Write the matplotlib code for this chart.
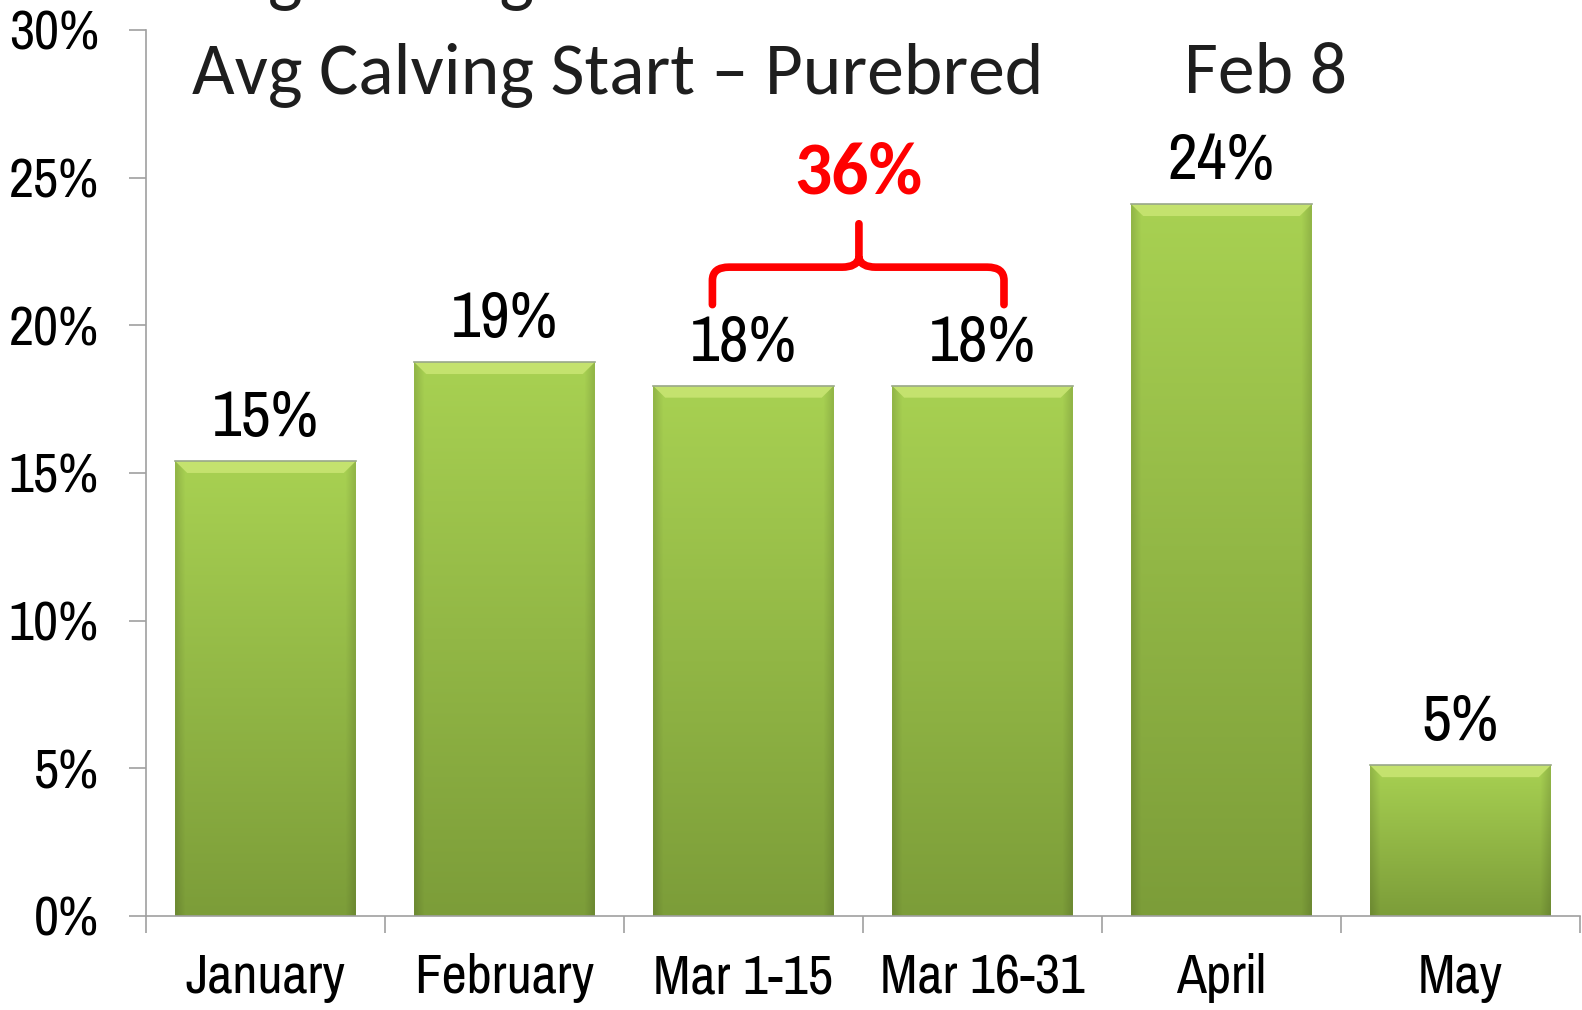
import numpy as np
import matplotlib
matplotlib.use("Agg")
import matplotlib.pyplot as plt
from matplotlib.path import Path
from matplotlib.patches import PathPatch, Polygon

categories = ["January", "February", "Mar 1-15", "Mar 16-31", "April", "May"]
values = [15.4, 18.75, 17.95, 17.95, 24.1, 5.1]
value_labels = ["15%", "19%", "18%", "18%", "24%", "5%"]
yticks = [0, 5, 10, 15, 20, 25, 30]
ytick_labels = ["0%", "5%", "10%", "15%", "20%", "25%", "30%"]
bracket_label = "36%"
title_lines = [("Avg Calving Start \u2013 Commercial", "Mar 15"),
               ("Avg Calving Start \u2013 Purebred", "Feb 8")]

TICK_FONT = ["Pragati Narrow", "DejaVu Sans"]
LABEL_FONT = ["Archivo Narrow", "DejaVu Sans"]
TITLE_FONT = ["Carlito", "DejaVu Sans"]

fig = plt.figure(figsize=(15.82, 10.10), dpi=100)
ax = fig.add_axes([0.0923, 0.0931, 0.9064, 0.8772])

x = np.arange(len(categories))
bars = ax.bar(x, values, width=0.755, color="none", edgecolor="none", zorder=2)

top_rgb = np.array([168, 209, 82]) / 255
bot_rgb = np.array([124, 157, 57]) / 255
for b in bars:
    bx, by, bw, bh = b.get_x(), b.get_y(), b.get_width(), b.get_height()
    ny, nx = 200, 60
    t = np.linspace(0, 1, ny)[:, None, None]
    img = top_rgb * (1 - t) + bot_rgb * t
    img = np.repeat(img, nx, axis=1)
    u = np.linspace(0, 1, nx)
    edge = 1 - 0.12 * np.clip(1 - np.minimum(u, 1 - u) / 0.05, 0, 1)
    img = img * edge[None, :, None]
    im = ax.imshow(img, extent=(bx, bx + bw, by, by + bh), aspect="auto",
                   zorder=2, interpolation="bilinear")
    im.set_clip_path(b)
    dx, dy = 0.05, 0.4
    ax.add_patch(Polygon([(bx, bh), (bx + bw, bh), (bx + bw - dx, bh - dy),
                          (bx + dx, bh - dy)], closed=True,
                         facecolor="#c4e26e", edgecolor="none", zorder=3))
    ax.plot([bx, bx + bw], [bh, bh], color="#9aa88a", lw=1.2, zorder=4)

for xi, v, lab in zip(x, values, value_labels):
    ax.text(xi, v + 0.85, lab, ha="center", va="baseline", fontsize=47,
            family=LABEL_FONT, color="black")

# red brace over the two March halves
bl, br, bm = 2 - 0.13, 3 + 0.09, 2.483
y0, y1, y2 = 20.7, 21.97, 23.44
rx, ry = 0.07, 0.45
verts = [(bl, y0), (bl, y1 - ry), (bl, y1), (bl + rx, y1),
         (bm - rx, y1), (bm - 0.01, y1), (bm, y1 + 0.3), (bm, y2),
         (bm, y1 + 0.3), (bm + 0.01, y1), (bm + rx, y1),
         (br - rx, y1), (br, y1), (br, y1 - ry), (br, y0)]
codes = [Path.MOVETO, Path.LINETO, Path.CURVE3, Path.CURVE3,
         Path.LINETO, Path.CURVE3, Path.CURVE3, Path.LINETO,
         Path.MOVETO, Path.CURVE3, Path.CURVE3,
         Path.LINETO, Path.CURVE3, Path.CURVE3, Path.LINETO]
ax.add_patch(PathPatch(Path(verts, codes), facecolor="none", edgecolor="#ff0000",
                       lw=5.5, capstyle="round", joinstyle="round", zorder=5))
ax.text(bm, 24.45, bracket_label, ha="center", va="baseline", fontsize=53,
        fontweight="bold", family=TITLE_FONT, color="#ff0000")

ax.set_xlim(-0.5, len(categories) - 0.5)
ax.set_ylim(0, 30)
ax.set_yticks(yticks)
ax.set_yticklabels(ytick_labels, family=TICK_FONT, fontsize=43)
ax.set_xticks(np.arange(len(categories) + 1) - 0.5)
ax.set_xticklabels([])
ax.set_xticks(x, minor=True)
ax.set_xticklabels(categories, minor=True, family=TICK_FONT, fontsize=43)
ax.tick_params(axis="y", length=12, width=1.2, color="#a0a0a0", pad=22)
ax.tick_params(axis="x", which="major", direction="out", length=12, width=1.2,
               color="#a0a0a0")
ax.tick_params(axis="x", which="minor", length=0, pad=27)
for s in ["top", "right"]:
    ax.spines[s].set_visible(False)
for s in ["left", "bottom"]:
    ax.spines[s].set_color("#a0a0a0")
    ax.spines[s].set_linewidth(1.2)

# heading lines, the first one partly off the top of the slide
for (lead, date), yb in zip(title_lines, [1.004, 0.908]):
    fig.text(0.1214, yb, lead, ha="left", va="baseline", fontsize=53,
             family=TITLE_FONT, color="#1e1e1e")
    fig.text(0.7484, yb, date, ha="left", va="baseline", fontsize=53,
             family=TITLE_FONT, color="#1e1e1e")

fig.savefig("out.png", dpi=100)
